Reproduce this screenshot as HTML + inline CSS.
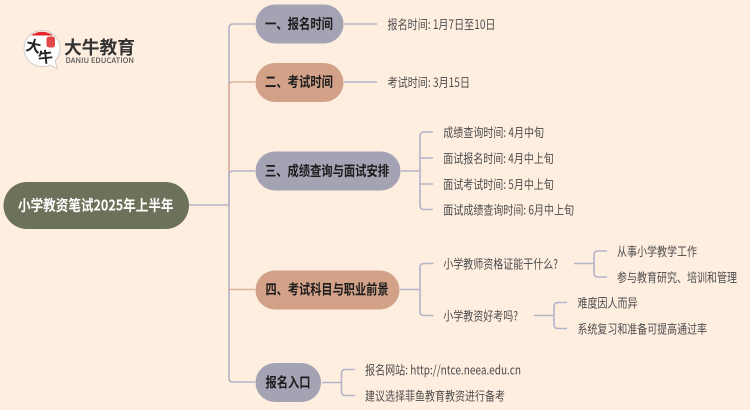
<!DOCTYPE html>
<html lang="zh"><head><meta charset="utf-8"><title>小学教资笔试2025年上半年</title>
<style>
html,body{margin:0;padding:0;background:#feeee0;width:750px;height:410px;overflow:hidden}
svg{display:block}
text{font-family:"Noto Sans CJK SC","Liberation Sans",sans-serif;dominant-baseline:central}
.l{font-size:12.5px;fill:#4c4c4c;transform:translateY(-.7px)}
.b{font-size:14px;font-weight:700;fill:#1c1c1c}
.p{fill:none;stroke:#b3b3c9;stroke-width:1.6}
.o{fill:none;stroke:#e0b199;stroke-width:1.6}
</style></head><body>
<svg width="750" height="410" viewBox="0 0 750 410" xmlns="http://www.w3.org/2000/svg">
<rect width="750" height="410" fill="#feeee0"/>
<!-- trunk -->
<path class="p" d="M189 205H229"/>
<path class="p" d="M229 205V28Q229 24 233 24H255"/>
<path class="p" d="M229 205V378Q229 382 233 382H255"/>
<path class="o" d="M229 171V86Q229 82 233 82H255"/>
<path class="p" d="M229 205V175Q229 171 233 171H255"/>
<path class="o" d="M229 289.5H255"/>
<!-- branch connectors -->
<path class="p" d="M344 24H377M344 82H377"/>
<path class="p" d="M401 171H420M433 132H424Q420 132 420 136V205Q420 209.500 424 209.500H433M420 158H433M420 184H433"/>
<path class="p" d="M400 289.500H420M433.500 263.500H424Q420 263.500 420 267.500V311.500Q420 315.500 424 315.500H433.500"/>
<path class="p" d="M574 263.500H594M607 251H598Q594 251 594 255V273Q594 277 598 277H607"/>
<path class="p" d="M534 315.500H554M567 302.500H558Q554 302.500 554 306.500V324.500Q554 328.500 558 328.500H567"/>
<path class="p" d="M322 382.500H341.500M355 369.500H345.500Q341.500 369.500 341.500 373.500V391.500Q341.500 395.500 345.500 395.500H355"/>
<!-- nodes -->
<rect x="3.500" y="182" width="185.500" height="47" rx="23.500" fill="#6b7259"/>
<text x="18" y="205" textLength="155.500" lengthAdjust="spacingAndGlyphs" style="font-size:15px;font-weight:700;fill:#fff">小学教资笔试2025年上半年</text>
<rect x="255.500" y="4.500" width="88" height="39" rx="19.500" fill="#a3a3b3"/>
<rect x="255.500" y="63" width="88" height="39" rx="19.500" fill="#d2a188"/>
<rect x="255.500" y="151.500" width="145" height="39" rx="19.500" fill="#a3a3b3"/>
<rect x="255.500" y="270.500" width="144" height="39" rx="19.500" fill="#d2a188"/>
<rect x="255.500" y="363" width="65.500" height="39" rx="19.500" fill="#a3a3b3"/>
<text class="b" x="265" y="24" textLength="68" lengthAdjust="spacingAndGlyphs">一、报名时间</text>
<text class="b" x="265" y="82" textLength="68" lengthAdjust="spacingAndGlyphs">二、考试时间</text>
<text class="b" x="265" y="171" textLength="124" lengthAdjust="spacingAndGlyphs">三、成绩查询与面试安排</text>
<text class="b" x="265.500" y="289.500" textLength="123" lengthAdjust="spacingAndGlyphs">四、考试科目与职业前景</text>
<text class="b" x="265.500" y="382.500" textLength="45" lengthAdjust="spacingAndGlyphs">报名入口</text>
<!-- leaves -->
<text class="l" x="387.500" y="24" textLength="108" lengthAdjust="spacingAndGlyphs">报名时间: 1月7日至10日</text>
<text class="l" x="387.500" y="82" textLength="82.500" lengthAdjust="spacingAndGlyphs">考试时间: 3月15日</text>
<text class="l" x="443.300" y="132" textLength="100.700" lengthAdjust="spacingAndGlyphs">成绩查询时间: 4月中旬</text>
<text class="l" x="443.300" y="158" textLength="110.500" lengthAdjust="spacingAndGlyphs">面试报名时间: 4月中上旬</text>
<text class="l" x="443.300" y="184" textLength="110.500" lengthAdjust="spacingAndGlyphs">面试考试时间: 5月中上旬</text>
<text class="l" x="443.300" y="209.500" textLength="130.700" lengthAdjust="spacingAndGlyphs">面试成绩查询时间: 6月中上旬</text>
<text class="l" x="443.300" y="263.500" textLength="114.700" lengthAdjust="spacingAndGlyphs">小学教师资格证能干什么?</text>
<text class="l" x="443.300" y="315.500" textLength="74.700" lengthAdjust="spacingAndGlyphs">小学教资好考吗?</text>
<text class="l" x="617" y="251" textLength="80" lengthAdjust="spacingAndGlyphs">从事小学教学工作</text>
<text class="l" x="617" y="277" textLength="120" lengthAdjust="spacingAndGlyphs">参与教育研究、培训和管理</text>
<text class="l" x="577.500" y="302.500" textLength="60" lengthAdjust="spacingAndGlyphs">难度因人而异</text>
<text class="l" x="577.500" y="328.500" textLength="129.500" lengthAdjust="spacingAndGlyphs">系统复习和准备可提高通过率</text>
<text class="l" x="365" y="369.500" textLength="156" lengthAdjust="spacingAndGlyphs">报名网站: http://ntce.neea.edu.cn</text>
<text class="l" x="365" y="395.500" textLength="140" lengthAdjust="spacingAndGlyphs">建议选择菲鱼教育教资进行备考</text>
<!-- logo -->
<path d="M42 30.500A18 18 0 0 0 42 66.500Q47 66.500 50 65L57.500 69L55 61A18 18 0 0 0 42 30.500Z" fill="#fff" stroke="#cfc8c4" stroke-width=".9"/>
<path d="M31 35.500A18 18 0 0 1 53 35.500Z" fill="#e5262a"/>
<rect x="46.500" y="36.500" width="8.500" height="11" rx="2.500" fill="#e0484a"/>
<text x="26" y="46" style="font-size:15px;fill:#222" font-weight="700" transform="rotate(12 33 46)">大</text>
<text x="38" y="57" style="font-size:15px;fill:#222" font-weight="700" transform="rotate(-6 45 57)">牛</text>
<text x="64" y="47" textLength="71" lengthAdjust="spacingAndGlyphs" style="font-size:18px;font-weight:700;fill:#333">大牛教育</text>
<text x="65.500" y="60.500" textLength="68.500" lengthAdjust="spacingAndGlyphs" style="font-size:7.500px;font-weight:500;fill:#555">DANIU EDUCATION</text>
</svg>
</body></html>
